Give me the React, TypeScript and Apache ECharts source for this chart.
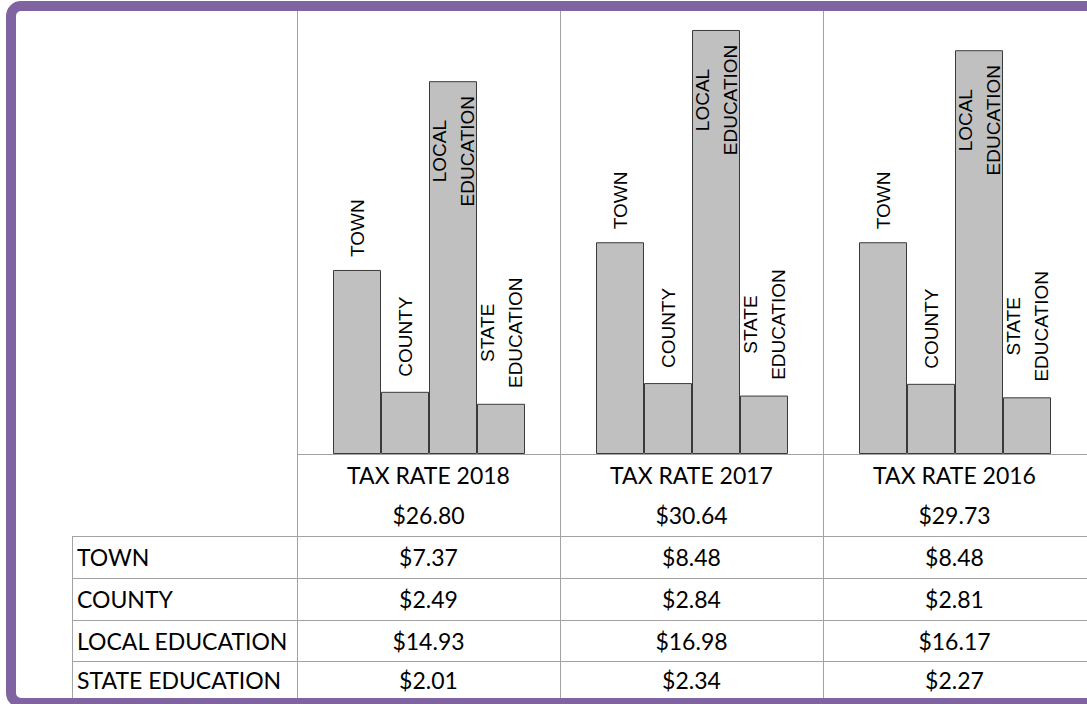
import React, { useEffect, useRef } from "react";
import * as echarts from "echarts";

const categories = ["TOWN", "COUNTY", "LOCAL EDUCATION", "STATE EDUCATION"];
const years = ["TAX RATE 2018", "TAX RATE 2017", "TAX RATE 2016"];
const rate2018 = [7.37, 2.49, 14.93, 2.01];
const rate2017 = [8.48, 2.84, 16.98, 2.34];
const rate2016 = [8.48, 2.81, 16.17, 2.27];
const rates = [rate2018, rate2017, rate2016];

const W = 1087;
const H = 704;
const PANEL_LEFT = [297, 560, 823];
const PANEL_W = 263;
const ROW_LINES = [536, 578, 620, 661];
const ROW_CENTERS = [557, 599, 641, 680];
const TABLE_FONT = "Lato, 'Noto Sans', sans-serif";
const LABEL_FONT = "'Liberation Sans', Arial, sans-serif";
const GRID_COLOR = "#a3a3a3";

function money(v: number) {
  return "$" + v.toFixed(2);
}

function labelFor(i: number) {
  const base: any = {
    show: true,
    rotate: 90,
    fontFamily: LABEL_FONT,
    fontSize: 19,
    lineHeight: 28,
    color: "#000",
    formatter: (p: any) => String(p.name).replace(" ", "\n"),
  };
  if (i === 0) return { ...base, position: "top", distance: 13, align: "left", verticalAlign: "middle" };
  if (i === 1) return { ...base, position: "top", distance: 15, align: "left", verticalAlign: "middle" };
  if (i === 2) return { ...base, position: ["50%", 70], align: "center", verticalAlign: "middle" };
  return { ...base, position: "top", distance: 71, align: "center", verticalAlign: "middle" };
}

function textEl(text: string, x: number, y: number, align: string) {
  return {
    type: "text",
    x,
    y,
    z: 10,
    style: {
      text,
      fill: "#000",
      fontSize: 23,
      fontFamily: TABLE_FONT,
      textAlign: align,
      textVerticalAlign: "middle",
      align,
      verticalAlign: "middle",
    },
  };
}

function lineEl(x1: number, y1: number, x2: number, y2: number) {
  return {
    type: "line",
    z: 5,
    shape: { x1, y1, x2, y2 },
    style: { stroke: GRID_COLOR, lineWidth: 1 },
  };
}

export default function App() {
  const ref = useRef<HTMLDivElement>(null);
  useEffect(() => {
    if (!ref.current) return;
    const chart = echarts.init(ref.current, null, { renderer: "svg" });

    const grids = PANEL_LEFT.map((l) => ({ left: l + 36, width: 192, top: 14, height: 440 }));
    const xAxes = PANEL_LEFT.map((_, k) => ({
      type: "category",
      gridIndex: k,
      data: categories,
      show: false,
    }));
    const yAxes = PANEL_LEFT.map((_, k) => ({
      type: "value",
      gridIndex: k,
      min: 0,
      max: 17.62,
      show: false,
      splitLine: { show: false },
    }));
    const series = rates.map((vals, k) => ({
      type: "bar",
      xAxisIndex: k,
      yAxisIndex: k,
      barWidth: "100%",
      itemStyle: { color: "#c0c0c0", borderColor: "#3a3a3a", borderWidth: 1 },
      data: vals.map((v, i) => ({ value: v, label: labelFor(i) })),
    }));

    const graphic: any[] = [];
    // table grid lines
    PANEL_LEFT.forEach((l) => graphic.push(lineEl(l + 0.5, 11, l + 0.5, H)));
    graphic.push(lineEl(72.5, 536, 72.5, H));
    graphic.push(lineEl(297, 454.5, W, 454.5));
    ROW_LINES.forEach((y) => graphic.push(lineEl(72, y + 0.5, W, y + 0.5)));
    // headers and totals
    years.forEach((t, k) => {
      const cx = PANEL_LEFT[k] + PANEL_W / 2;
      graphic.push(textEl(t, cx, 475, "center"));
      const total = rates[k].reduce((a, b) => a + b, 0);
      graphic.push(textEl(money(total), cx, 515, "center"));
    });
    // rows
    categories.forEach((c, i) => {
      graphic.push(textEl(c, 77, ROW_CENTERS[i], "left"));
      rates.forEach((vals, k) => {
        const cx = PANEL_LEFT[k] + PANEL_W / 2;
        graphic.push(textEl(money(vals[i]), cx, ROW_CENTERS[i], "center"));
      });
    });
    // purple frame
    graphic.push({
      type: "rect",
      z: 20,
      shape: { x: 11, y: 6, width: 1110, height: 697, r: 10 },
      style: { fill: "none", stroke: "#8064a2", lineWidth: 10 },
    });

    chart.setOption({
      animation: false,
      backgroundColor: "#fff",
      grid: grids,
      xAxis: xAxes,
      yAxis: yAxes,
      series,
      graphic: { elements: graphic },
    });
    return () => chart.dispose();
  }, []);
  return (
    <div
      ref={ref}
      style={{ position: "fixed", left: 0, top: 0, width: W, height: H }}
    />
  );
}
